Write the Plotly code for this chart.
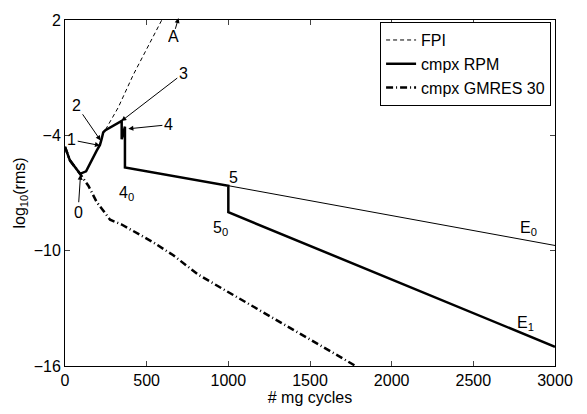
import plotly.graph_objects as go

# ---- data ----
fpi_x = [0, 30, 92, 129, 194, 214, 224, 234, 245, 326, 418, 592, 660]
fpi_y = [-4.6, -5.3, -6.0, -5.87, -4.8, -4.5, -4.2, -3.85, -3.75, -2.55, -0.85, 2.0, 3.1]

rpm_x = [0, 30, 92, 129, 194, 214, 224, 234, 245, 347, 347, 367, 367, 1000, 1000, 3000]
rpm_y = [-4.6, -5.3, -6.0, -5.87, -4.8, -4.5, -4.2, -3.85, -3.75, -3.25, -4.2, -3.55, -5.67, -6.62, -8.0, -15.0]

gmres_x = [0, 30, 92, 143, 194, 276, 347, 418, 541, 663, 816, 1780]
gmres_y = [-4.6, -5.3, -6.0, -6.62, -7.47, -8.39, -8.64, -8.97, -9.57, -10.24, -11.25, -16.0]

e0_x = [1000, 3000]
e0_y = [-6.62, -9.73]

x_ticks = [0, 500, 1000, 1500, 2000, 2500, 3000]
y_ticks = [2, -4, -10, -16]
y_tick_text = ["2", "\u22124", "\u221210", "\u221216"]

# labels with arrows: (text, head_x, head_y, label_x, label_y)
arrow_labels = [
    ("0", 95, -6.05, 80, -8.0),
    ("1", 214, -4.53, 41, -4.24),
    ("2", 218, -4.27, 71, -2.45),
    ("3", 345, -3.26, 724, -0.78),
    ("4", 388, -3.66, 633, -3.45),
    ("A", 695, 2.1, 662, 1.15),
]
# plain labels: (text, x, y)
plain_labels = [
    ("4<sub>0</sub>", 375, -7.05),
    ("5", 1031, -6.2),
    ("5<sub>0</sub>", 955, -8.85),
    ("E<sub>0</sub>", 2840, -8.85),
    ("E<sub>1</sub>", 2820, -13.8),
]

FONT = "Liberation Sans, Arial, Helvetica, sans-serif"

fig = go.Figure()
fig.add_trace(go.Scatter(x=fpi_x, y=fpi_y, mode="lines", name="FPI",
                         line=dict(color="black", width=1, dash="4px,3px")))
fig.add_trace(go.Scatter(x=e0_x, y=e0_y, mode="lines", showlegend=False,
                         line=dict(color="black", width=1)))
fig.add_trace(go.Scatter(x=rpm_x, y=rpm_y, mode="lines", name="cmpx RPM",
                         line=dict(color="black", width=2.5)))
fig.add_trace(go.Scatter(x=gmres_x, y=gmres_y, mode="lines", name="cmpx GMRES 30",
                         line=dict(color="black", width=2.5, dash="7px,3px,1px,3px")))

annotations = []
for t, hx, hy, lx, ly in arrow_labels:
    ann = dict(text=t, x=hx, y=hy, ax=lx, ay=ly, xref="x", yref="y",
               axref="x", ayref="y", showarrow=True, arrowhead=2,
               arrowsize=1, arrowwidth=1, arrowcolor="black",
               font=dict(size=16, color="black", family=FONT))
    if t == "A":
        ann["height"] = 12
    annotations.append(ann)
for t, x, y in plain_labels:
    annotations.append(dict(text=t, x=x, y=y, xref="x", yref="y", showarrow=False,
                            font=dict(size=16, color="black", family=FONT)))

fig.update_layout(
    width=587, height=414,
    margin=dict(l=65, r=32, t=12, b=45),
    paper_bgcolor="white", plot_bgcolor="white",
    font=dict(family=FONT, size=16, color="black"),
    annotations=annotations,
    legend=dict(x=0.992, y=0.994, xanchor="right", yanchor="top",
                bgcolor="white", bordercolor="black", borderwidth=1,
                font=dict(size=16, family=FONT), tracegroupgap=0,
                itemwidth=30),
    xaxis=dict(range=[0, 3000], tickvals=x_ticks, ticks="inside", ticklen=5,
               showline=True, mirror="ticks", linecolor="black", linewidth=1,
               showgrid=False, zeroline=False,
               title=dict(text="# mg cycles", standoff=2, font=dict(size=16))),
    yaxis=dict(range=[-16, 2], tickvals=y_ticks, ticktext=y_tick_text,
               ticks="inside", ticklen=5,
               showline=True, mirror="ticks", linecolor="black", linewidth=1,
               showgrid=False, zeroline=False,
               title=dict(text="log<sub>10</sub>(rms)", standoff=4, font=dict(size=16))),
)

fig.write_html("out.html")
